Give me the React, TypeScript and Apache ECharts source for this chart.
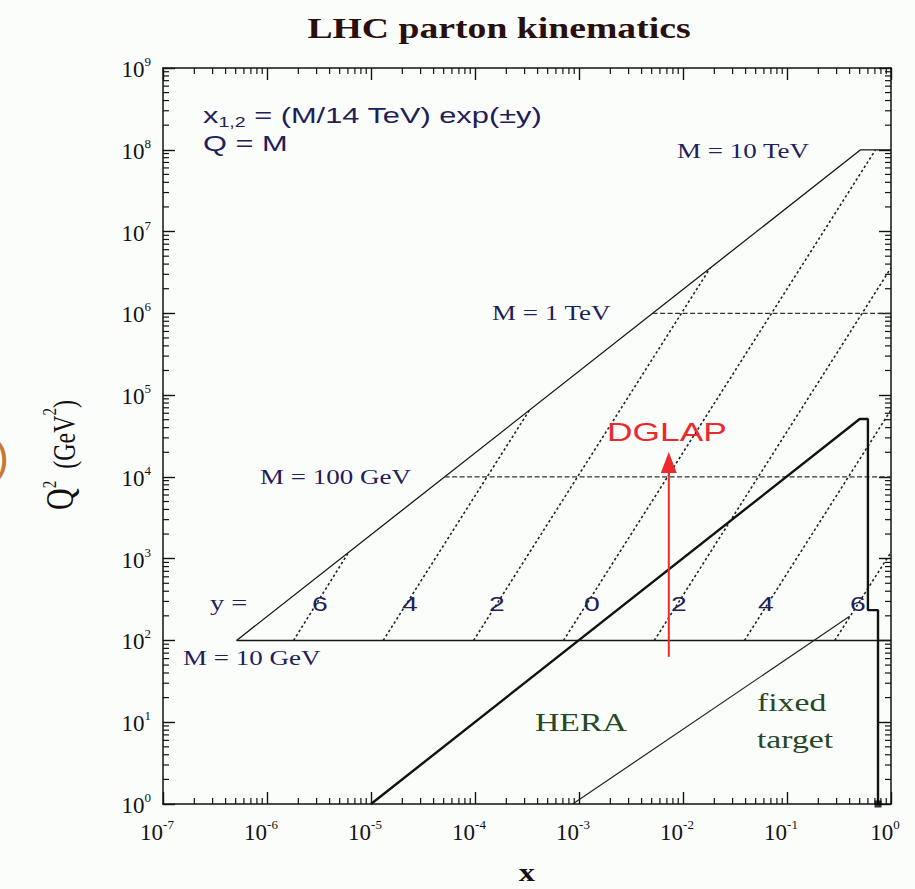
import React, { useEffect, useRef } from 'react';
import * as echarts from 'echarts';

// ---- data ----
const xTickExponents = [-7, -6, -5, -4, -3, -2, -1, 0];
const yTickExponents = [0, 1, 2, 3, 4, 5, 6, 7, 8, 9];
const kinematicLimit = [[5.1e-7, 100], [0.51, 1e8], [1, 1e8]];
const mass10GeV = [[5.1e-7, 100], [1, 100]];
const mass100GeV = [[5.1e-5, 1e4], [1, 1e4]];
const mass1TeV = [[5.1e-3, 1e6], [1, 1e6]];
const rapPlus6 = [[1.8e-6, 100], [6.1e-6, 1.2e3]];
const rapPlus4 = [[1.31e-5, 100], [3.35e-4, 6.6e4]];
const rapPlus2 = [[9.7e-5, 100], [1.83e-2, 3.6e6]];
const rapZero = [[7.1e-4, 100], [0.71, 1e8]];
const rapMinus2 = [[5.3e-3, 100], [1, 3.6e6]];
const rapMinus4 = [[3.9e-2, 100], [1, 6.6e4]];
const rapMinus6 = [[0.288, 100], [1, 1.2e3]];
const heraReach = [[1e-5, 1], [0.5, 5.1e4], [0.6, 5.1e4], [0.6, 235], [0.75, 235], [0.75, 1]];
const heraCorner = [[0.75, 1]];
const fixedTarget = [[8.7e-4, 1], [0.4, 197]];
const dglapArrow = [[7.3e-3, 63], [7.3e-3, 1.5e4]];
const rapidityLabels = ['6', '4', '2', '0', '2', '4', '6'];

// ---- layout / style ----
const SERIF = '"Liberation Serif", "Times New Roman", serif';
const SANS = '"Liberation Sans", Arial, sans-serif';
const NAVY = '#1f2058';
const GREEN = '#274827';
const INK = '#161616';
const rapidityLabelX = [320, 410, 497, 592, 679, 766, 858];

const minorValues = (lo: number, hi: number) => {
  const out: number[] = [];
  for (let e = lo; e < hi; e++) for (let m = 2; m <= 9; m++) out.push(m * Math.pow(10, e));
  return out;
};

const labelFormatter = (v: number) => `{b|10}{s|${Math.round(Math.log10(v))}}`;
const labelRich = {
  b: { fontSize: 23, fontFamily: SERIF, color: '#111', lineHeight: 26, verticalAlign: 'bottom' },
  s: { fontSize: 13, fontFamily: SERIF, color: '#111', lineHeight: 15, verticalAlign: 'top' },
};

const axisCommon = {
  type: 'log',
  logBase: 10,
  axisLine: { show: true, lineStyle: { color: '#111', width: 1.5 } },
  axisTick: { show: true, inside: true, length: 12, lineStyle: { color: '#111', width: 1.4 } },
  splitLine: { show: false },
};

const lineS = (data: number[][], width: number, type: any = 'solid', color = INK) => ({
  type: 'line',
  data,
  symbol: 'none',
  silent: true,
  lineStyle: { color, width, type },
  z: 3,
});

const txt = (text: string, x: number, y: number, o: any = {}) => ({
  type: 'text',
  x,
  y,
  scaleX: o.sx ?? 1.35,
  scaleY: o.sy ?? 1,
  rotation: o.rot ?? 0,
  z: 100,
  style: {
    text,
    fontSize: o.size ?? 20,
    fontFamily: o.font ?? SERIF,
    fontWeight: o.weight ?? 'normal',
    fill: o.color ?? NAVY,
    align: o.align ?? 'left',
    verticalAlign: 'middle',
    rich: o.rich,
  },
});

export default function App() {
  const ref = useRef<HTMLDivElement>(null);
  useEffect(() => {
    const chart = echarts.init(ref.current!, null, { renderer: 'svg', width: 915, height: 889 });

    const xMinor = minorValues(xTickExponents[0], xTickExponents[xTickExponents.length - 1]);
    const yMinor = minorValues(yTickExponents[0], yTickExponents[yTickExponents.length - 1]);
    const xMin = Math.pow(10, xTickExponents[0]);
    const xMax = Math.pow(10, xTickExponents[xTickExponents.length - 1]);
    const yMin = Math.pow(10, yTickExponents[0]);
    const yMax = Math.pow(10, yTickExponents[yTickExponents.length - 1]);

    const tick = (x1: number, y1: number, x2: number, y2: number) => ({
      type: 'line',
      shape: { x1, y1, x2, y2 },
      style: { stroke: '#111', lineWidth: 1.2 },
    });

    const option: any = {
      animation: false,
      backgroundColor: '#fbfdfb',
      grid: { left: 163, right: 24, top: 68, bottom: 85 },
      xAxis: [
        {
          ...axisCommon,
          min: xMin,
          max: xMax,
          splitNumber: 7,
          position: 'bottom',
          axisLabel: { formatter: labelFormatter, rich: labelRich, margin: 14, padding: [0, 12, 0, 0] },
        },
        { ...axisCommon, min: xMin, max: xMax, splitNumber: 7, position: 'top', axisLabel: { show: false } },
      ],
      yAxis: [
        {
          ...axisCommon,
          min: yMin,
          max: yMax,
          splitNumber: 9,
          position: 'left',
          axisLabel: { formatter: labelFormatter, rich: labelRich, margin: 12 },
        },
        { ...axisCommon, min: yMin, max: yMax, splitNumber: 9, position: 'right', axisLabel: { show: false } },
      ],
      series: [
        {
          type: 'custom',
          coordinateSystem: 'cartesian2d',
          silent: true,
          clip: false,
          data: xMinor.map((v) => [v, yMin]),
          renderItem: (_p: any, api: any) => {
            const v = api.value(0);
            const b = api.coord([v, yMin]);
            const t = api.coord([v, yMax]);
            return {
              type: 'group',
              children: [tick(b[0], b[1], b[0], b[1] - 6), tick(t[0], t[1], t[0], t[1] + 6)],
            };
          },
        },
        {
          type: 'custom',
          coordinateSystem: 'cartesian2d',
          silent: true,
          clip: false,
          data: yMinor.map((v) => [xMin, v]),
          renderItem: (_p: any, api: any) => {
            const v = api.value(1);
            const l = api.coord([xMin, v]);
            const r = api.coord([xMax, v]);
            return {
              type: 'group',
              children: [tick(l[0], l[1], l[0] + 6, l[1]), tick(r[0], r[1], r[0] - 6, r[1])],
            };
          },
        },
        lineS(kinematicLimit, 1.3),
        lineS(mass10GeV, 1.6),
        lineS(mass100GeV, 1.2, [5, 2.5], '#333'),
        lineS(mass1TeV, 1.2, [5, 2.5], '#333'),
        ...[rapPlus6, rapPlus4, rapPlus2, rapZero, rapMinus2, rapMinus4, rapMinus6].map((d) =>
          lineS(d, 1.6, [2.5, 2.5], '#222')
        ),
        lineS(heraReach, 2.4, 'solid', '#111'),
        lineS(fixedTarget, 1.2, 'solid', '#222'),
        {
          type: 'scatter',
          data: heraCorner,
          symbol: 'rect',
          symbolSize: 7,
          itemStyle: { color: '#000' },
          silent: true,
          clip: false,
          z: 4,
        },
        {
          type: 'line',
          silent: true,
          z: 5,
          lineStyle: { color: '#ec2a2e', width: 2 },
          itemStyle: { color: '#ec2a2e' },
          data: [
            { value: dglapArrow[0], symbol: 'none' },
            { value: dglapArrow[1], symbol: 'triangle', symbolSize: [16, 21] },
          ],
        },
      ],
      graphic: {
        elements: [
          txt('LHC parton kinematics', 499, 28, {
            size: 29,
            weight: 'bold',
            align: 'center',
            color: '#2b0f0f',
            sx: 1.3,
          }),
          txt('{a|x}{b|1,2}{a| = (M/14 TeV) exp(±y)}', 203, 117, {
            font: SANS,
            sx: 1.4,
            rich: {
              a: { fontSize: 22, fontFamily: SANS, lineHeight: 24, verticalAlign: 'top', fill: NAVY },
              b: { fontSize: 14, fontFamily: SANS, lineHeight: 16, verticalAlign: 'bottom', fill: NAVY },
            },
          }),
          txt('Q = M', 203, 144, { font: SANS, size: 22, sx: 1.4 }),
          txt('M = 10 TeV', 677, 151),
          txt('M = 1 TeV', 492, 313),
          txt('M = 100 GeV', 260, 477),
          txt('M = 10 GeV', 183, 658),
          txt('y =', 210, 603, { size: 21 }),
          ...rapidityLabels.map((l, i) =>
            txt(l, rapidityLabelX[i], 603, { font: SANS, size: 21, align: 'center' })
          ),
          txt('HERA', 535, 723, { size: 25, color: GREEN }),
          txt('fixed', 757, 703, { size: 25, color: GREEN }),
          txt('target', 757, 740, { size: 25, color: GREEN }),
          txt('DGLAP', 607, 432, { font: SANS, size: 26, color: '#ec2a2e', sx: 1.36 }),
          txt('x', 527, 872, { size: 26, weight: 'bold', color: '#111', align: 'center', sx: 1.25 }),
          txt('{q|Q}{s|2}{n|  (GeV}{s|2}{n|)}', 60, 455, {
            rot: Math.PI / 2,
            sx: 1,
            sy: 1.3,
            align: 'center',
            color: '#111',
            rich: {
              q: { fontSize: 30, fontFamily: SERIF, lineHeight: 30, verticalAlign: 'bottom', fill: '#111' },
              n: { fontSize: 24, fontFamily: SERIF, lineHeight: 26, verticalAlign: 'bottom', fill: '#111' },
              s: { fontSize: 15, fontFamily: SERIF, lineHeight: 16, verticalAlign: 'top', fill: '#111' },
            },
          }),
          txt(')', 9, 456, { font: SANS, size: 44, color: '#c97a32', align: 'right', sx: 1 }),
        ],
      },
    };

    chart.setOption(option);
    return () => chart.dispose();
  }, []);

  return (
    <div
      ref={ref}
      style={{ position: 'absolute', left: 0, top: 0, width: 915, height: 889 }}
    />
  );
}
